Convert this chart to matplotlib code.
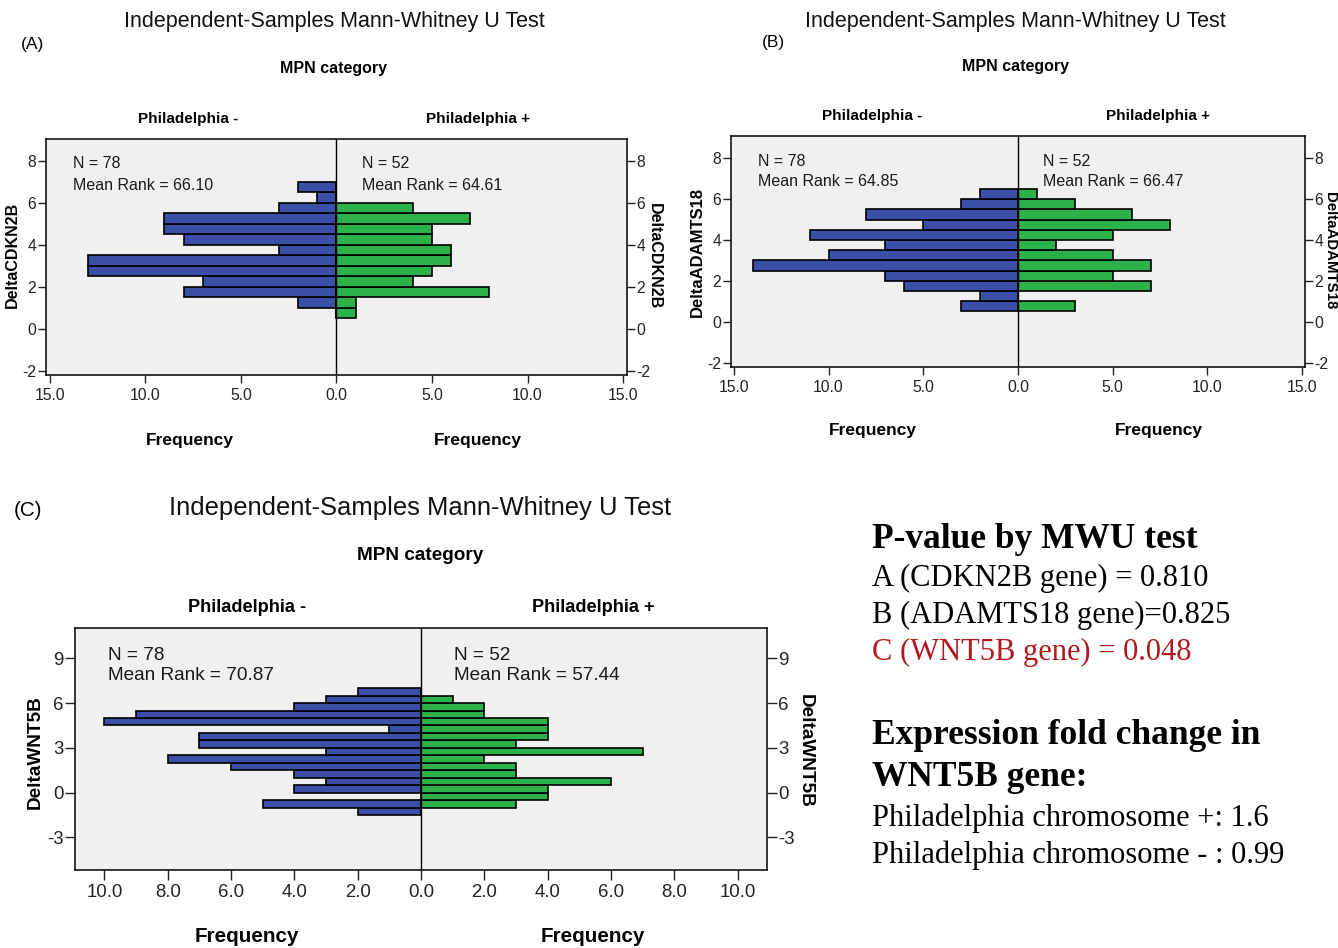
import matplotlib
matplotlib.use("Agg")
import matplotlib.pyplot as plt
from matplotlib.ticker import FuncFormatter

plt.rcParams['axes.unicode_minus'] = False

# ---------------- data ----------------
bins_A = [0.5, 1.0, 1.5, 2.0, 2.5, 3.0, 3.5, 4.0, 4.5, 5.0, 5.5, 6.0, 6.5]
neg_A = [0, 2, 8, 7, 13, 13, 3, 8, 9, 9, 3, 1, 2]
pos_A = [1, 1, 8, 4, 5, 6, 6, 5, 5, 7, 4, 0, 0]

bins_B = [0.5, 1.0, 1.5, 2.0, 2.5, 3.0, 3.5, 4.0, 4.5, 5.0, 5.5, 6.0]
neg_B = [3, 2, 6, 7, 14, 10, 7, 11, 5, 8, 3, 2]
pos_B = [3, 0, 7, 5, 7, 5, 2, 5, 8, 6, 3, 1]

bins_C = [-1.5, -1.0, -0.5, 0.0, 0.5, 1.0, 1.5, 2.0, 2.5, 3.0, 3.5, 4.0, 4.5, 5.0, 5.5, 6.0, 6.5]
neg_C = [2, 5, 0, 4, 3, 4, 6, 8, 3, 7, 7, 1, 10, 9, 4, 3, 2]
pos_C = [0, 3, 4, 4, 6, 3, 3, 2, 7, 3, 4, 4, 4, 2, 2, 1, 0]

groups = ["Philadelphia -", "Philadelphia +"]
n_A = [78, 52]; rank_A = ["66.10", "64.61"]
n_B = [78, 52]; rank_B = ["64.85", "66.47"]
n_C = [78, 52]; rank_C = ["70.87", "57.44"]
ylabels = ["DeltaCDKN2B", "DeltaADAMTS18", "DeltaWNT5B"]
yticks_A = [-2, 0, 2, 4, 6, 8]
yticks_B = [-2, 0, 2, 4, 6, 8]
yticks_C = [-3, 0, 3, 6, 9]
xticks_AB = [-15, -10, -5, 0, 5, 10, 15]
xticks_C = [-10, -8, -6, -4, -2, 0, 2, 4, 6, 8, 10]

pvals = ["A (CDKN2B gene) = 0.810", "B (ADAMTS18 gene)=0.825", "C (WNT5B gene) = 0.048"]
fold = ["Philadelphia chromosome +: 1.6", "Philadelphia chromosome - : 0.99"]

# ---------------- style ----------------
W, H = 1338, 948
SANS = ['Liberation Sans', 'DejaVu Sans']
SERIF = ['Liberation Serif', 'DejaVu Serif']
BLUE = '#3a50a6'
GREEN = '#2cb24a'
BG = '#f0f0f0'

fig = plt.figure(figsize=(W / 100, H / 100), dpi=100)
fig.patch.set_facecolor('white')


def fx(x):
    return x / W


def fy(y):
    return 1 - y / H


def ftext(x, y, s, **kw):
    fig.text(fx(x), fy(y), s, **kw)


def panel(box, xlim, ylim, bins, neg, pos, ns, ranks, ylabel, yticks, xticks,
          letter, t, s=1.0, ylsize=(11.5, 11.5)):
    l, r, top, b = box
    ax = fig.add_axes([fx(l), fy(b), fx(r - l), (b - top) / H])
    ax.set_facecolor(BG)
    ax.barh(bins, [-v for v in neg], height=0.5, align='edge', color=BLUE,
            edgecolor='black', linewidth=1.2, zorder=2)
    ax.barh(bins, pos, height=0.5, align='edge', color=GREEN,
            edgecolor='black', linewidth=1.2, zorder=2)
    ax.axvline(0, color='black', lw=1.0, zorder=3)
    ax.set_xlim(*xlim)
    ax.set_ylim(*ylim)
    ax.set_xticks(xticks)
    ax.xaxis.set_major_formatter(FuncFormatter(lambda v, p: "{:.1f}".format(abs(v))))
    ax.set_yticks(yticks)
    ax.tick_params(axis='both', direction='out', length=6 * s, width=1.0,
                   colors='#222222', labelsize=11.3 * s, pad=3)
    ax.tick_params(axis='y', right=True, labelright=True, pad=1)
    for lab in ax.get_xticklabels() + ax.get_yticklabels():
        lab.set_family(SANS)
    for sp in ax.spines.values():
        sp.set_color('black')
        sp.set_linewidth(1.1)
    # N / mean rank annotations
    for k in range(2):
        x0, y0, dy = t['n'][k]
        ftext(x0, y0, f"N = {ns[k]}", family=SANS, fontsize=11.5 * s,
              ha='left', va='center', color='#1a1a1a')
        ftext(x0, y0 + dy, f"Mean Rank = {ranks[k]}", family=SANS,
              fontsize=11.5 * s, ha='left', va='center', color='#1a1a1a')
    ftext(t['title'][0], t['title'][1], "Independent-Samples Mann-Whitney U Test",
          family=SANS, fontsize=15.5 * s, ha='center', va='center', color='#111111')
    ftext(t['letter'][0], t['letter'][1], letter, family=SANS,
          fontsize=12.5 * s, ha='center', va='center')
    ftext(t['mpn'][0], t['mpn'][1], "MPN category", family=SANS,
          fontsize=11.5 * s, fontweight='bold', ha='center', va='center')
    for k in range(2):
        ftext(t['grp'][k][0], t['grp'][k][1], groups[k], family=SANS,
              fontsize=11 * s, fontweight='bold', ha='center', va='center')
        ftext(t['freq'][k][0], t['freq'][k][1], "Frequency", family=SANS,
              fontsize=12.5 * s, fontweight='bold', ha='center', va='center')
    ftext(t['yl'][0][0], t['yl'][0][1], ylabel, family=SANS, fontsize=ylsize[0] * s,
          fontweight='bold', rotation=90, ha='center', va='center')
    ftext(t['yl'][1][0], t['yl'][1][1], ylabel, family=SANS, fontsize=ylsize[1] * s,
          fontweight='bold', rotation=270, ha='center', va='center')
    return ax


panel((46, 627, 139, 375), (-15.2, 15.2), (-2.2, 9.03), bins_A, neg_A, pos_A,
      n_A, rank_A, ylabels[0], yticks_A, xticks_AB, "(A)",
      dict(n=[(73, 163, 22), (362, 163, 22)], title=(334, 22), letter=(33, 44),
           mpn=(334, 68), grp=[(188, 119), (478, 119)],
           freq=[(190, 440), (478, 440)], yl=[(12, 255), (654, 256)]))

panel((731, 1305, 136, 367), (-15.15, 15.15), (-2.22, 9.09), bins_B, neg_B, pos_B,
      n_B, rank_B, ylabels[1], yticks_B, xticks_AB, "(B)",
      dict(n=[(758, 161, 20), (1043, 161, 20)], title=(1015, 22), letter=(773, 43),
           mpn=(1015, 67), grp=[(872, 116), (1158, 116)],
           freq=[(873, 431), (1159, 431)], yl=[(697, 252), (1330, 251)]),
      ylsize=(12, 10.8))

panel((75, 767, 628, 870), (-10.93, 10.93), (-5.18, 11.03), bins_C, neg_C, pos_C,
      n_C, rank_C, ylabels[2], yticks_C, xticks_C, "(C)",
      dict(n=[(108, 655, 21), (454, 655, 21)], title=(420, 508), letter=(28, 510),
           mpn=(420, 555), grp=[(247, 607), (593, 607)],
           freq=[(247, 937), (593, 937)], yl=[(35, 752), (805, 751)]), s=1.19)

# ---------------- right text block ----------------
ftext(872, 540, "P-value by MWU test", family=SERIF, fontsize=25.5, fontweight='bold',
      ha='left', va='center')
ftext(872, 578, pvals[0], family=SERIF, fontsize=22, ha='left', va='center')
ftext(872, 615, pvals[1], family=SERIF, fontsize=22, ha='left', va='center')
ftext(872, 652, pvals[2], family=SERIF, fontsize=22, ha='left', va='center',
      color='#b0181c')
ftext(872, 736, "Expression fold change in", family=SERIF, fontsize=25.5,
      fontweight='bold', ha='left', va='center')
ftext(872, 778, "WNT5B gene:", family=SERIF, fontsize=25.5, fontweight='bold',
      ha='left', va='center')
ftext(872, 818, fold[0], family=SERIF, fontsize=22, ha='left', va='center')
ftext(872, 855, fold[1], family=SERIF, fontsize=22, ha='left', va='center')

fig.savefig("out.png", dpi=100, facecolor='white')
